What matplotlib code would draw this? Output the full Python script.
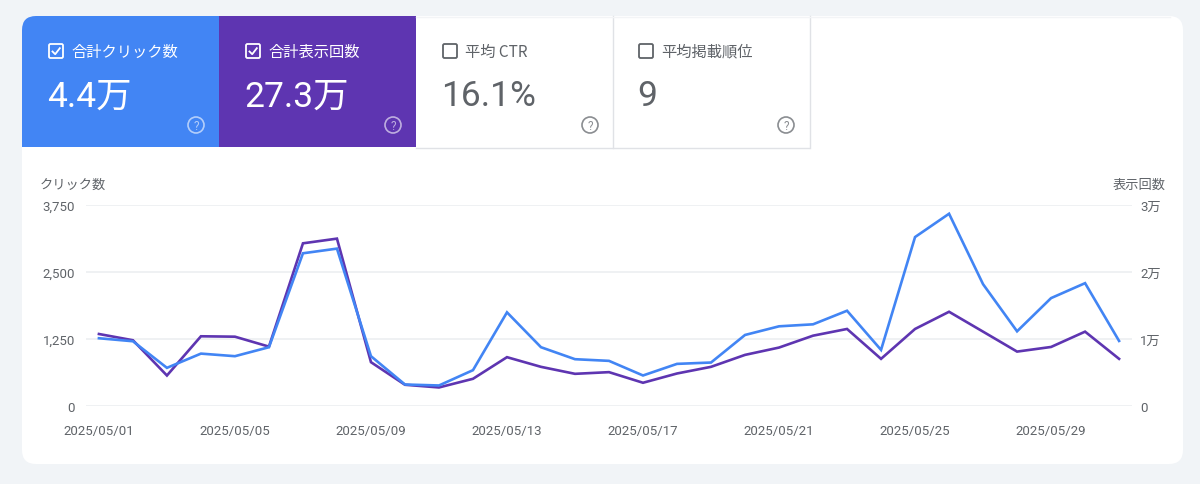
import matplotlib
matplotlib.use("Agg")
import matplotlib.pyplot as plt
from matplotlib.patches import FancyBboxPatch, Rectangle, Circle
from matplotlib.lines import Line2D

# ---------------- data ----------------
dates = [f"2025/05/{d:02d}" for d in range(1, 32)]
clicks = [1261, 1205, 710, 975, 927, 1094, 2842, 2929, 927, 400, 382,
          667, 1743, 1094, 871, 840, 568, 784, 809, 1322, 1483, 1520, 1773,
          1044, 3144, 3578, 2267, 1390, 2008, 2286, 1211]
impressions = [10720, 9790, 4540, 10380, 10320, 8840, 24220, 24920, 6525, 3160, 2760,
               4050, 7270, 5830, 4790, 5040, 3460, 4840, 5830, 7610, 8700, 10470, 11470,
               7020, 11470, 14030, 11070, 8100, 8790, 11070, 7020]
card_labels = ["合計クリック数", "合計表示回数", "平均 CTR", "平均掲載順位"]
card_values = ["4.4万", "27.3万", "16.1%", "9"]
left_ticks = [0, 1250, 2500, 3750]
left_ticklabels = ["0", "1,250", "2,500", "3,750"]
right_ticks = [0, 10000, 20000, 30000]
right_ticklabels = ["0", "1万", "2万", "3万"]
date_tick_idx = [0, 4, 8, 12, 16, 20, 24, 28]

BLUE = "#4285f4"
PURPLE = "#5e35b1"
GREY = "#5f6368"
BG = "#f1f4f7"
GRID = "#ebedf0"

W, H = 1200, 485
fig = plt.figure(figsize=(W / 100, H / 100), dpi=100, facecolor=BG)

JP = ["Noto Sans CJK JP", "DejaVu Sans"]
NUM = ["Roboto", "Noto Sans CJK JP", "DejaVu Sans"]

bg = fig.add_axes([0, 0, 1, 1])
bg.set_xlim(0, W)
bg.set_ylim(0, H)
bg.axis("off")
bg.set_zorder(0)


def Y(y):
    return H - y


# main white card
bg.add_patch(FancyBboxPatch((22, Y(465)), 1161, 448,
                            boxstyle="round,pad=0,rounding_size=14",
                            fc="white", ec="none", zorder=1))

# metric cards
card_x = [22, 219, 416, 612]
card_w = 197
card_top, card_bot = 17, 148
fills = [BLUE, PURPLE, "white", "white"]
for i, (x0, fc) in enumerate(zip(card_x, fills)):
    if i == 0:
        bg.add_patch(FancyBboxPatch((x0, Y(card_bot)), card_w, card_bot - card_top,
                                    boxstyle="round,pad=0,rounding_size=14",
                                    fc=fc, ec="none", zorder=2))
        bg.add_patch(Rectangle((x0 + 20, Y(card_bot)), card_w - 20, card_bot - card_top,
                               fc=fc, ec="none", zorder=2))
        bg.add_patch(Rectangle((x0, Y(card_bot)), card_w, card_bot - card_top - 20,
                               fc=fc, ec="none", zorder=2))
    else:
        bg.add_patch(Rectangle((x0, Y(card_bot)), card_w, card_bot - card_top,
                               fc=fc, ec="none", zorder=2))

# borders for white cards
bc = "#e0e2e6"
bg.add_line(Line2D([416, 809], [Y(148.5), Y(148.5)], color=bc, lw=1, zorder=3))
bg.add_line(Line2D([612.5, 612.5], [Y(17), Y(148.5)], color=bc, lw=1, zorder=3))
bg.add_line(Line2D([809.5, 809.5], [Y(17), Y(148.5)], color=bc, lw=1, zorder=3))
bg.add_line(Line2D([416, 1170], [Y(17.5), Y(17.5)], color="#f3f4f6", lw=1, zorder=3))

for i, x0 in enumerate(card_x):
    active = i < 2
    tc = "white" if active else GREY
    # checkbox
    cbx, cby = x0 + 27, 45
    bg.add_patch(FancyBboxPatch((cbx, Y(cby + 14)), 14, 14,
                                boxstyle="round,pad=0,rounding_size=1.5",
                                fc="none", ec=tc, lw=1.3, zorder=4))
    if active:
        bg.add_line(Line2D([cbx + 3.5, cbx + 6.2, cbx + 10.8],
                           [Y(cby + 7.5), Y(cby + 10.2), Y(cby + 4.2)],
                           color=tc, lw=1.3, zorder=5))
    bg.text(x0 + 49, Y(52), card_labels[i], family=JP, fontsize=11,
            color=tc, ha="left", va="center", zorder=5)
    bg.text(x0 + 25, Y(97), card_values[i], family=NUM, fontsize=25.5,
            color=tc, ha="left", va="center", zorder=5)
    # help icon
    hx, hy = x0 + 174, 126
    hc = (1, 1, 1, 0.6) if active else "#8a8d91"
    bg.add_patch(Circle((hx, Y(hy)), 8, fc="none", ec=hc, lw=1.2, zorder=5))
    bg.text(hx, Y(hy) - 0.5, "?", family=NUM, fontsize=8.5, color=hc,
            ha="center", va="center", zorder=6)

# ---------------- chart ----------------
ax_left, ax_right = 86, 1132
ax_top, ax_bottom = 205.5, 407
rect = [ax_left / W, (H - ax_bottom) / H,
        (ax_right - ax_left) / W, (ax_bottom - ax_top) / H]

# impressions axis (drawn below), clicks axis (drawn above)
ax_imp = fig.add_axes(rect)
ax_clk = fig.add_axes(rect, sharex=ax_imp)
ax_imp.set_zorder(2)
ax_clk.set_zorder(3)
for a in (ax_imp, ax_clk):
    a.patch.set_visible(False)
    for s in a.spines.values():
        s.set_visible(False)

x = list(range(len(dates)))
ax_imp.plot(x, impressions, color=PURPLE, lw=1.9, solid_joinstyle="miter", zorder=3)
ax_clk.plot(x, clicks, color=BLUE, lw=1.9, solid_joinstyle="miter", zorder=3)

ax_clk.set_xlim(-0.38, 30.38)
ax_clk.set_ylim(0, 3750)
ax_imp.set_ylim(0, 30000)

# grid lines (in the lowest axes so both lines sit above them)
ax_imp.set_yticks(right_ticks)
ax_imp.yaxis.grid(True, color=GRID, lw=1.1)
ax_imp.set_axisbelow(True)

ax_clk.set_yticks(left_ticks)
ax_clk.set_yticklabels(left_ticklabels)
ax_clk.yaxis.tick_left()
ax_clk.tick_params(axis="y", length=0, pad=8, labelsize=9.5, labelcolor=GREY)
for lab in ax_clk.get_yticklabels():
    lab.set_family(NUM)

ax_imp.yaxis.tick_right()
ax_imp.set_yticklabels(right_ticklabels)
ax_imp.tick_params(axis="y", length=0, pad=6, labelsize=9.5, labelcolor=GREY)
for lab in ax_imp.get_yticklabels():
    lab.set_family(NUM)

ax_clk.set_xticks(date_tick_idx)
ax_clk.set_xticklabels([dates[i] for i in date_tick_idx])
ax_clk.tick_params(axis="x", length=0, pad=13, labelsize=9.5, labelcolor=GREY)
for lab in ax_clk.get_xticklabels():
    lab.set_family(NUM)
ax_imp.tick_params(axis="x", bottom=False, labelbottom=False)

# axis titles
bg.text(40, Y(185), "クリック数", family=JP, fontsize=9.5, color=GREY,
        ha="left", va="center", zorder=5)
bg.text(1166, Y(185), "表示回数", family=JP, fontsize=9.5, color=GREY,
        ha="right", va="center", zorder=5)

fig.savefig("out.png", dpi=100, facecolor=BG)
